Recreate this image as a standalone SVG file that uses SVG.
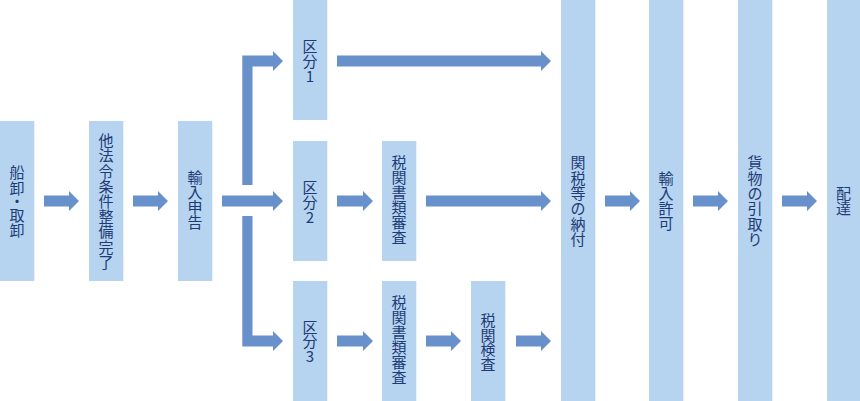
<svg xmlns="http://www.w3.org/2000/svg" width="860" height="401" viewBox="0 0 860 401">
<style>
.box{fill:#b6d3f0}
.arr{fill:#6890cb}
.lbl{font-family:"Noto Sans CJK JP","Noto Sans",sans-serif;font-size:15px;fill:#1d3b76;text-anchor:middle}
</style>
<rect width="860" height="401" fill="#ffffff"/>
<g id="connectors">
<polygon class="arr" points="44,195.5 69,195.5 69,191 79,201 69,211 69,206.5 44,206.5"/>
<polygon class="arr" points="133,195.5 158,195.5 158,191 168,201 158,211 158,206.5 133,206.5"/>
<polygon class="arr" points="222,195.5 273,195.5 273,191 283,201 273,211 273,206.5 222,206.5"/>
<polygon class="arr" points="242.3,185 242.3,55.5 273,55.5 273,51 283,61 273,71 273,66.5 252.5,66.5 252.5,185"/>
<polygon class="arr" points="242.3,216 242.3,346.5 273,346.5 273,351 283,341 273,331 273,335.5 252.5,335.5 252.5,216"/>
<polygon class="arr" points="337,55.5 541,55.5 541,51 551,61 541,71 541,66.5 337,66.5"/>
<polygon class="arr" points="337,195.5 363,195.5 363,191 373,201 363,211 363,206.5 337,206.5"/>
<polygon class="arr" points="426,195.5 541,195.5 541,191 551,201 541,211 541,206.5 426,206.5"/>
<polygon class="arr" points="337,335.5 363,335.5 363,331 373,341 363,351 363,346.5 337,346.5"/>
<polygon class="arr" points="426,335.5 451,335.5 451,331 461,341 451,351 451,346.5 426,346.5"/>
<polygon class="arr" points="516,335.5 541,335.5 541,331 551,341 541,351 541,346.5 516,346.5"/>
<polygon class="arr" points="605,195.5 630,195.5 630,191 640,201 630,211 630,206.5 605,206.5"/>
<polygon class="arr" points="693,195.5 718,195.5 718,191 728,201 718,211 718,206.5 693,206.5"/>
<polygon class="arr" points="782,195.5 807,195.5 807,191 817,201 807,211 807,206.5 782,206.5"/>
</g>
<g id="n1"><rect class="box" x="0" y="121" width="34.3" height="160"/>
<text class="lbl"><tspan x="17" y="178.2">船</tspan><tspan x="17" y="193.5">卸</tspan><tspan x="17" y="207.2">・</tspan><tspan x="17" y="220.7">取</tspan><tspan x="17" y="236">卸</tspan></text></g>
<g id="n2"><rect class="box" x="89" y="121" width="34.3" height="160"/>
<text class="lbl"><tspan x="106" y="146.2">他</tspan><tspan x="106" y="161.4">法</tspan><tspan x="106" y="176.6">令</tspan><tspan x="106" y="191.8">条</tspan><tspan x="106" y="207">件</tspan><tspan x="106" y="222.2">整</tspan><tspan x="106" y="237.4">備</tspan><tspan x="106" y="252.6">完</tspan><tspan x="106" y="267.8">了</tspan></text></g>
<g id="n3"><rect class="box" x="178" y="121" width="34.3" height="160"/>
<text class="lbl"><tspan x="195" y="183.2">輸</tspan><tspan x="195" y="198.2">入</tspan><tspan x="195" y="213.2">申</tspan><tspan x="195" y="228.2">告</tspan></text></g>
<g id="n4"><rect class="box" x="293" y="0" width="34.3" height="120"/>
<text class="lbl"><tspan x="310" y="51.7">区</tspan><tspan x="310" y="66.7">分</tspan><tspan x="310" y="81.7">1</tspan></text></g>
<g id="n5"><rect class="box" x="293" y="141" width="34.3" height="120"/>
<text class="lbl"><tspan x="310" y="192.7">区</tspan><tspan x="310" y="207.7">分</tspan><tspan x="310" y="222.7">2</tspan></text></g>
<g id="n6"><rect class="box" x="293" y="281" width="34.3" height="120"/>
<text class="lbl"><tspan x="310" y="332.7">区</tspan><tspan x="310" y="347.2">分</tspan><tspan x="310" y="361.7">3</tspan></text></g>
<g id="n7"><rect class="box" x="382" y="141" width="34.3" height="120"/>
<text class="lbl"><tspan x="399" y="168.2">税</tspan><tspan x="399" y="183.2">関</tspan><tspan x="399" y="198.2">書</tspan><tspan x="399" y="213.2">類</tspan><tspan x="399" y="228.2">審</tspan><tspan x="399" y="243.2">査</tspan></text></g>
<g id="n8"><rect class="box" x="382" y="281" width="34.3" height="120"/>
<text class="lbl"><tspan x="399" y="308.2">税</tspan><tspan x="399" y="323.2">関</tspan><tspan x="399" y="338.2">書</tspan><tspan x="399" y="353.2">類</tspan><tspan x="399" y="368.2">審</tspan><tspan x="399" y="383.2">査</tspan></text></g>
<g id="n9"><rect class="box" x="471" y="281" width="34.3" height="120"/>
<text class="lbl"><tspan x="488" y="325.7">税</tspan><tspan x="488" y="340.5">関</tspan><tspan x="488" y="355.3">検</tspan><tspan x="488" y="370.1">査</tspan></text></g>
<g id="n10"><rect class="box" x="561" y="0" width="34.3" height="401"/>
<text class="lbl"><tspan x="578" y="168.4">関</tspan><tspan x="578" y="183.7">税</tspan><tspan x="578" y="199">等</tspan><tspan x="578" y="214.3">の</tspan><tspan x="578" y="229.6">納</tspan><tspan x="578" y="244.9">付</tspan></text></g>
<g id="n11"><rect class="box" x="649" y="0" width="34.3" height="401"/>
<text class="lbl"><tspan x="666" y="184.2">輸</tspan><tspan x="666" y="199.2">入</tspan><tspan x="666" y="214.2">許</tspan><tspan x="666" y="229.2">可</tspan></text></g>
<g id="n12"><rect class="box" x="738" y="0" width="34.3" height="401"/>
<text class="lbl"><tspan x="755" y="168.4">貨</tspan><tspan x="755" y="183.7">物</tspan><tspan x="755" y="199">の</tspan><tspan x="755" y="214.3">引</tspan><tspan x="755" y="229.6">取</tspan><tspan x="755" y="244.9">り</tspan></text></g>
<g id="n13"><rect class="box" x="827" y="0" width="33" height="401"/>
<text class="lbl"><tspan x="843.5" y="199.2">配</tspan><tspan x="843.5" y="214.2">達</tspan></text></g>
</svg>
